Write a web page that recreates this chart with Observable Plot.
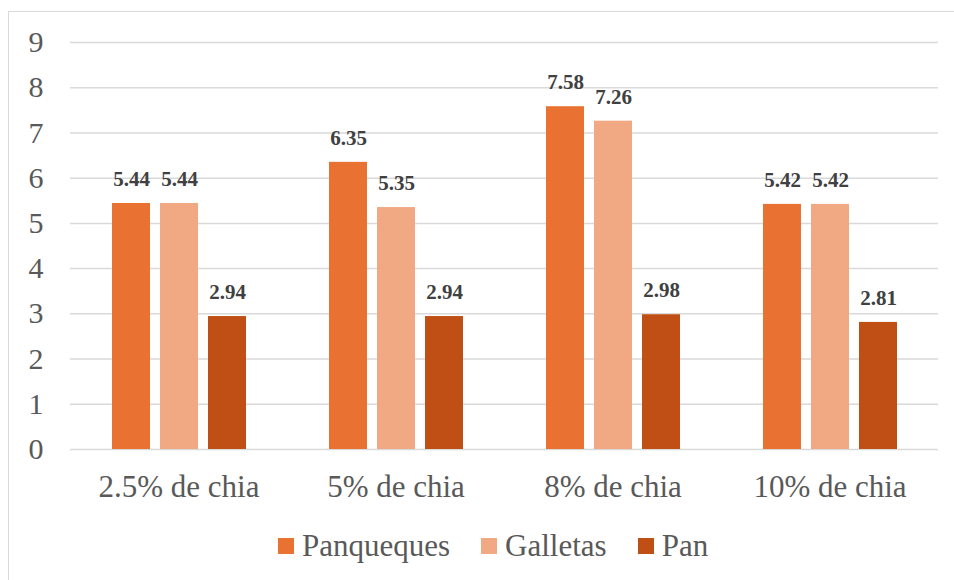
<!DOCTYPE html>
<html>
<head>
<meta charset="utf-8">
<script src="https://cdn.jsdelivr.net/npm/d3@7"></script>
<script src="https://cdn.jsdelivr.net/npm/@observablehq/plot@0.6"></script>
<style>
  html, body { margin: 0; padding: 0; background: #fff; overflow: hidden; width: 954px; height: 580px; }
  #frame { position: absolute; left: 8px; top: 11px; width: 1000px; height: 600px; border-left: 1.5px solid #d9d9d9; border-top: 1.5px solid #d9d9d9; }
  #chart { position: absolute; left: 0; top: 0; }
  #legend { position: absolute; left: 278px; top: 527px; height: 38px; display: flex; align-items: center; font-size: 31px; color: #595959; font-family: 'Liberation Serif', serif; }
  .item { display: flex; align-items: center; margin-right: 31px; }
  .sw { width: 16px; height: 16px; margin-right: 8px; }
</style>
</head>
<body>
<div id="frame"></div>
<div id="chart"></div>
<div id="legend"></div>
<script>
const categories = ["2.5% de chia", "5% de chia", "8% de chia", "10% de chia"];
const series = ["Panqueques", "Galletas", "Pan"];
const panqueques = [5.44, 6.35, 7.58, 5.42];
const galletas = [5.44, 5.35, 7.26, 5.42];
const pan = [2.94, 2.94, 2.98, 2.81];
const yTicks = [0, 1, 2, 3, 4, 5, 6, 7, 8, 9];
const colors = ["#E97132", "#F1A983", "#C04F15"];
const FONT = "'Liberation Serif', serif";

const values = [panqueques, galletas, pan];
const data = [];
categories.forEach((c, i) => {
  series.forEach((s, j) => data.push({cat: c, series: s, value: values[j][i]}));
});

const chart = Plot.plot({
  width: 954,
  height: 520,
  marginLeft: 69,
  marginRight: 15,
  marginTop: 42,
  marginBottom: 71,
  style: {background: "transparent", fontFamily: FONT},
  fx: {domain: categories, padding: 0, label: null},
  x: {domain: series, paddingInner: 0.21, paddingOuter: 0.857, axis: null},
  y: {domain: [0, 9], axis: null},
  color: {domain: series, range: colors},
  marks: [
    Plot.gridY(yTicks, {stroke: "#d9d9d9", strokeOpacity: 1, strokeWidth: 1.5}),
    Plot.axisY(yTicks, {tickSize: 0, tickPadding: 27, fontSize: 30, fontFamily: FONT, fill: "#595959", label: null}),
    Plot.axisFx({anchor: "bottom", tickSize: 0, tickPadding: 25, fontSize: 31, fontFamily: FONT, fill: "#595959", label: null}),
    Plot.barY(data, {fx: "cat", x: "series", y: "value", fill: "series"}),
    Plot.text(data, {fx: "cat", x: "series", y: "value", text: d => d.value.toFixed(2), dy: -24, fontWeight: "bold", fontSize: 21, fontFamily: FONT, fill: "#404040"})
  ]
});
document.getElementById("chart").appendChild(chart);

const legend = document.getElementById("legend");
series.forEach((s, i) => {
  const item = document.createElement("div");
  item.className = "item";
  const sw = document.createElement("span");
  sw.className = "sw";
  sw.style.background = colors[i];
  const t = document.createElement("span");
  t.textContent = s;
  item.appendChild(sw);
  item.appendChild(t);
  legend.appendChild(item);
});
</script>
</body>
</html>
